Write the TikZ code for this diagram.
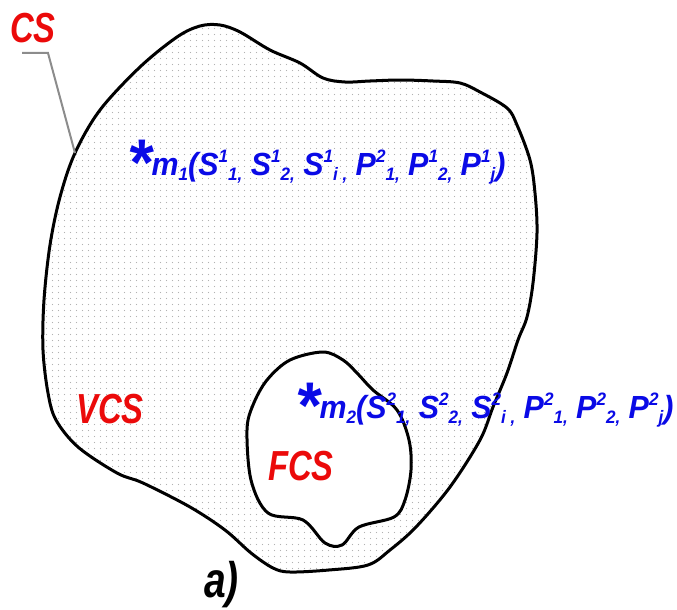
\documentclass[tikz,border=0pt]{standalone}
\usepackage{fontspec}
\setmainfont{Liberation Sans}[FakeStretch=0.78]
\newfontfamily\formfont{Liberation Sans}[FakeStretch=0.95]
\usetikzlibrary{patterns.meta}
\definecolor{txtblue}{RGB}{10,10,230}
\definecolor{txtred}{RGB}{235,10,10}
\pgfdeclarepattern{name=blobdots, type=uncolored,
  bottom left={\pgfpoint{0pt}{0pt}}, top right={\pgfpoint{5.5pt}{5.5pt}},
  tile size={\pgfpoint{5.5pt}{5.5pt}},
  code={\pgfpathcircle{\pgfpoint{2.75pt}{2.75pt}}{0.7pt}\pgfusepath{fill}}}
\newcommand\supx[1]{\raisebox{13pt}{\fontsize{18}{18}\selectfont #1}}
\newcommand\subx[1]{\raisebox{-5pt}{\fontsize{18}{18}\selectfont #1}}
\newcommand\bigast{\raisebox{-10pt}{\fontsize{66}{66}\selectfont *}}
\tikzset{
  formula/.style={anchor=base west, inner sep=0pt, text=txtblue,
    font=\formfont\fontsize{32}{32}\selectfont\bfseries\itshape},
  redlabel/.style={anchor=base west, inner sep=0pt, text=txtred,
    font=\fontsize{42}{42}\selectfont\bfseries\itshape},
  blobline/.style={line width=3pt, black, line join=round},
  leader/.style={line width=2pt, gray!90}
}
\begin{document}
\begin{tikzpicture}[x=1pt,y=-1pt]
\useasboundingbox (0,0) rectangle (677,610);
% outer region with hole
\fill[pattern={blobdots}, pattern color=gray!60, even odd rule]
  plot[smooth cycle, tension=0.55] coordinates {
  (200,26) (220,25) (240,32) (270,50) (300,63) (323,78) (345,82) (370,81)
  (400,80) (433,81) (460,83) (480,92) (507,108) (517,125) (530,160)
  (535,193) (537,233) (533,283) (527,317) (518,340) (507,373) (493,407)
  (480,440) (450,487) (416,527) (390,550) (368,565) (329,570) (290,572)
  (273,568) (251,553) (225,530) (190,507) (143,483) (117,473) (78,447)
  (56,420) (48,393) (43,350) (44,300) (50,245) (60,197) (75,153)
  (100,110) (140,67) (177,37)}
  plot[smooth cycle, tension=0.55] coordinates {
  (323,352) (343,360) (357,373) (373,390) (397,410) (409,440) (411,470)
  (405,500) (394,517) (359,527) (342,545) (325,543) (303,520) (268,513)
  (251,480) (247,430) (253,405) (267,380) (290,360)};
\draw[blobline] plot[smooth cycle, tension=0.55] coordinates {
  (200,26) (220,25) (240,32) (270,50) (300,63) (323,78) (345,82) (370,81)
  (400,80) (433,81) (460,83) (480,92) (507,108) (517,125) (530,160)
  (535,193) (537,233) (533,283) (527,317) (518,340) (507,373) (493,407)
  (480,440) (450,487) (416,527) (390,550) (368,565) (329,570) (290,572)
  (273,568) (251,553) (225,530) (190,507) (143,483) (117,473) (78,447)
  (56,420) (48,393) (43,350) (44,300) (50,245) (60,197) (75,153)
  (100,110) (140,67) (177,37)};
\draw[blobline] plot[smooth cycle, tension=0.55] coordinates {
  (323,352) (343,360) (357,373) (373,390) (397,410) (409,440) (411,470)
  (405,500) (394,517) (359,527) (342,545) (325,543) (303,520) (268,513)
  (251,480) (247,430) (253,405) (267,380) (290,360)};
% labels
\node[redlabel] (cs) at (10,43) {CS};
\coordinate (csstart) at (22,53);
\coordinate (csknee) at (48,53);
\coordinate (cstip) at (75,153);
\draw[leader] (csstart) -- (csknee) -- (cstip);
\node[redlabel] (vcs) at (76,423) {VCS};
\node[redlabel] (fcs) at (268,480) {FCS};
\node[anchor=base west, inner sep=0pt,
  font=\fontsize{50}{50}\selectfont\bfseries\itshape] (lab) at (204,597) {a)};
\node[formula] (m1) at (127,175)
  {\bigast m\subx{1}(S\supx{1}\subx{1,} S\supx{1}\subx{2,} S\supx{1}\subx{i ,} P\supx{2}\subx{1,} P\supx{1}\subx{2,} P\supx{1}\subx{j})};
\node[formula] (m2) at (295,418)
  {\bigast m\subx{2}(S\supx{2}\subx{1,} S\supx{2}\subx{2,} S\supx{2}\subx{i ,} P\supx{2}\subx{1,} P\supx{2}\subx{2,} P\supx{2}\subx{j})};
\end{tikzpicture}
\end{document}
